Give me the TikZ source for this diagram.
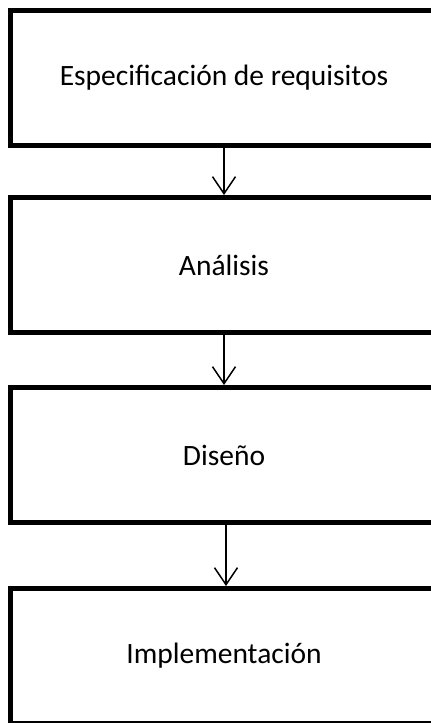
\documentclass[tikz,border=0pt]{standalone}
\usepackage{fontspec}
\setmainfont{Carlito}
\usetikzlibrary{arrows.meta}
\begin{document}
\begin{tikzpicture}[x=1pt,y=-1pt,
  stage/.style={draw=black, line width=5pt, rectangle,
    minimum width=427pt, minimum height=135pt, inner sep=0pt,
    font=\fontsize{29.5}{36}\selectfont},
  flow/.style={line width=1.5pt,
    -{Straight Barb[length=17pt,width=23pt,line width=1.5pt]}}]
  \useasboundingbox (0,0) rectangle (431,723);
  \node[stage] (req)  at (224,77.5) {Especificación de requisitos};
  \node[stage] (anal) at (224,265)  {Análisis};
  \node[stage] (dis)  at (224,455)  {Diseño};
  \node[stage] (impl) at (224,656)  {Implementación};
  \draw[flow] (req.south) -- (anal.north);
  \draw[flow] (anal.south) -- (dis.north);
  \draw[flow] ([xshift=2pt]dis.south) -- ([xshift=2pt]impl.north);
\end{tikzpicture}
\end{document}
